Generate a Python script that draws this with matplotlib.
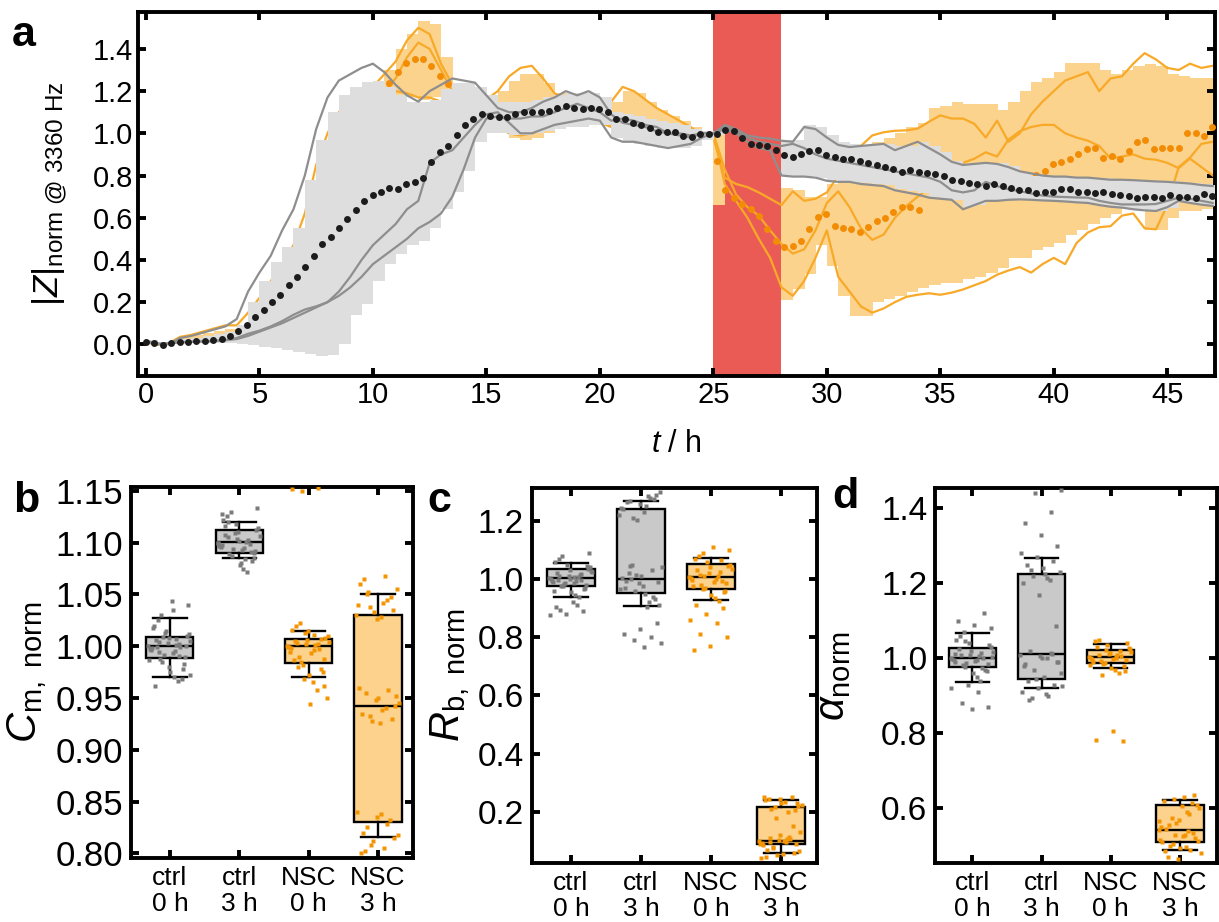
import numpy as np
import matplotlib
matplotlib.use('Agg')
import matplotlib.pyplot as plt

plt.rcParams['font.family'] = ['Liberation Sans', 'DejaVu Sans']
plt.rcParams['mathtext.fontset'] = 'custom'
plt.rcParams['mathtext.rm'] = 'Liberation Sans'
plt.rcParams['mathtext.it'] = 'Liberation Sans:italic'
plt.rcParams['mathtext.bf'] = 'Liberation Sans:bold'

# ---------------- panel a data (traces on a 0.5 h grid) ----------------
ctrl_A = [0.015, 0.005, 0.0, 0.03, 0.04, 0.055, 0.07, 0.085, 0.12, 0.25, 0.34, 0.42, 0.54, 0.64, 0.8, 1.02, 1.17, 1.25, 1.28, 1.31,
          1.33, 1.29, 1.23, 1.18, 1.15, 1.2, 1.23, 1.26, 1.25, 1.24, 1.18, 1.12, 1.1, 1.1, 1.12, 1.15, 1.17, 1.2, 1.18, 1.2,
          1.17, 1.09, 1.05, 1.04, 1.03, 1.01, 1.0, 0.99, 0.98, 1.0, 1.0,
          1.04, 1.02, 0.99, 0.98, 0.975, 0.965, 0.96, 1.03, 1.02, 0.98, 0.945, 0.935, 0.94, 0.945, 0.95, 0.92, 0.94, 0.96, 0.93, 0.9,
          0.865, 0.85, 0.855, 0.86, 0.855, 0.84, 0.82, 0.81, 0.8, 0.795, 0.795, 0.79, 0.79, 0.785, 0.78, 0.78, 0.778, 0.775, 0.772, 0.77,
          0.766, 0.762, 0.755, 0.75]
ctrl_B = [0.015, 0.0, 0.005, 0.01, 0.012, 0.014, 0.016, 0.02, 0.025, 0.04, 0.06, 0.08, 0.1, 0.125, 0.15, 0.175, 0.2, 0.25, 0.32, 0.4,
          0.47, 0.52, 0.57, 0.64, 0.68, 0.86, 0.9, 0.92, 0.98, 1.04, 1.09, 1.1, 1.05, 1.0, 1.0, 1.02, 1.04, 1.05, 1.06, 1.07,
          1.06, 0.98, 0.96, 0.96, 0.95, 0.94, 0.93, 0.94, 0.95, 0.98, 1.0,
          1.02, 1.0, 0.96, 0.93, 0.92, 0.8, 0.795, 0.795, 0.79, 0.775, 0.77, 0.77, 0.76, 0.755, 0.75, 0.73, 0.72, 0.71, 0.695, 0.69,
          0.685, 0.64, 0.66, 0.68, 0.68, 0.685, 0.687, 0.685, 0.682, 0.68, 0.677, 0.673, 0.67, 0.66, 0.652, 0.648, 0.64, 0.635, 0.632, 0.65,
          0.68, 0.67, 0.662, 0.656]
ctrl_C = [0.015, 0.0, 0.005, 0.01, 0.012, 0.014, 0.016, 0.02, 0.03, 0.05, 0.065, 0.085, 0.11, 0.14, 0.165, 0.18, 0.2, 0.23, 0.27, 0.32,
          0.38, 0.42, 0.46, 0.5, 0.55, 0.58, 0.62, 0.7, 0.83, 0.98, 1.07, 1.08, 1.07, 1.07, 1.08, 1.08, 1.1, 1.12, 1.14, 1.12,
          1.1, 1.06, 1.07, 1.06, 1.04, 1.03, 1.0, 1.0, 0.99, 1.0, 1.0,
          1.03, 1.01, 0.98, 0.96, 0.95, 0.94, 0.95, 0.93, 0.9, 0.88, 0.87, 0.86, 0.85, 0.84, 0.83, 0.82, 0.81, 0.8, 0.79, 0.77,
          0.73, 0.72, 0.73, 0.77, 0.75, 0.735, 0.726, 0.715, 0.705, 0.7, 0.698, 0.696, 0.695, 0.68, 0.67, 0.663, 0.663, 0.663, 0.665, 0.68,
          0.695, 0.69, 0.68, 0.67]
nsc_D = [0.01, 0.0, 0.005, 0.035, 0.045, 0.06, 0.075, 0.09, 0.09, 0.15, 0.22, 0.3, 0.38, 0.47, 0.62, 0.85, 1.0, 1.1, 1.15, 1.18,
         1.22, 1.28, 1.34, 1.44, 1.5, 1.47, 1.33, 1.23, 1.2, 1.18, 1.16, 1.2, 1.27, 1.31, 1.32, 1.26, 1.19, 1.16, 1.14, 1.12,
         1.1, 1.15, 1.22, 1.2, 1.16, 1.12, 1.09, 1.06, 1.03, 0.99, 0.98,
         0.79, 0.76, 0.745, 0.72, 0.69, 0.66, 0.725, 0.68, 0.69, 0.72, 0.8, 0.885, 0.94, 0.99, 1.005, 1.012, 1.014, 1.022, 1.055, 1.085,
         1.07, 1.07, 1.045, 0.98, 1.06, 0.96, 1.0, 1.09, 1.15, 1.2, 1.25, 1.27, 1.29, 1.2, 1.26, 1.27, 1.33, 1.38, 1.35, 1.31,
         1.3, 1.33, 1.31, 1.32]
nsc_E = [0.01, 0.0, 0.005, 0.01, 0.012, 0.015, 0.02, 0.03, 0.05, 0.08, 0.12, 0.17, 0.23, 0.3, 0.38, 0.47, 0.57, 0.68, 0.8, 0.95,
         1.1, 1.2, 1.26, 1.36, 1.43, 1.4, 1.3, 1.2, 1.15, 1.12, 1.1, 1.08, 1.05, 1.02, 1.02, 1.03, 1.04, 1.05, 1.05, 1.06,
         1.05, 1.03, 1.02, 1.01, 1.0, 0.99, 0.99, 0.99, 1.0, 1.0, 1.0,
         0.83, 0.71, 0.65, 0.61, 0.54, 0.476, 0.43, 0.45, 0.54, 0.67, 0.725, 0.65, 0.55, 0.495, 0.52, 0.6, 0.655, 0.7, 0.74, 0.77,
         0.82, 0.86, 0.88, 0.91, 0.89, 0.97, 1.01, 1.03, 1.04, 1.04, 1.0, 0.98, 0.965, 0.94, 0.88, 0.89, 0.9, 0.88, 0.875, 0.86,
         0.835, 0.88, 0.84, 0.8]
nsc_F = [0.01, 0.0, 0.005, 0.01, 0.012, 0.015, 0.02, 0.025, 0.04, 0.06, 0.09, 0.13, 0.18, 0.24, 0.31, 0.39, 0.48, 0.58, 0.7, 0.85,
         1.0, 1.15, 1.2, 1.19, 1.17, 1.17, 1.15, 1.12, 1.1, 1.08, 1.06, 1.03, 1.0, 0.99, 1.0, 1.02, 1.03, 1.04, 1.05, 1.06,
         1.06, 1.04, 1.02, 1.0, 0.99, 0.98, 0.97, 0.97, 0.98, 0.99, 1.0,
         0.76, 0.68, 0.6, 0.5, 0.41, 0.27, 0.23, 0.3, 0.41, 0.54, 0.32, 0.25, 0.18, 0.15, 0.17, 0.2, 0.225, 0.235, 0.242, 0.235,
         0.245, 0.26, 0.28, 0.3, 0.33, 0.35, 0.366, 0.34, 0.38, 0.41, 0.38, 0.48, 0.53, 0.555, 0.56, 0.61, 0.62, 0.55, 0.545, 0.66,
         0.84, 0.885, 0.95, 0.96]

# stepped spread bands (0.5 h bins); nan = no band
nan = np.nan
ctrl_lo = [0.0, -0.005, 0.0, 0.005, 0.005, 0.005, 0.005, 0.005, 0.0, -0.005, -0.012, -0.018, -0.025, -0.035, -0.045, -0.055, -0.05, 0.0, 0.14, 0.19,
           0.3, 0.38, 0.43, 0.47, 0.49, 0.55, 0.64, 0.72, 0.82, 0.96, 1.0, 1.0, 0.99, 0.99, 1.0, 1.01, 1.02, 1.03, 1.03, 1.04,
           1.04, 0.98, 0.96, 0.95, 0.94, 0.93, 0.93, 0.93, 0.94, 0.97, 0.99,
           nan, nan, nan, nan, nan, 0.8, 0.8, 0.8, 0.79, 0.78, 0.775, 0.77, 0.765, 0.76, 0.755, 0.735, 0.725, 0.715, 0.7, 0.69,
           0.685, 0.65, 0.66, 0.68, 0.68, 0.685, 0.685, 0.685, 0.68, 0.678, 0.675, 0.672, 0.668, 0.66, 0.652, 0.648, 0.64, 0.635, 0.632, 0.648,
           0.675, 0.668, 0.66, 0.655]
ctrl_hi = [0.02, 0.01, 0.01, 0.025, 0.03, 0.04, 0.05, 0.06, 0.09, 0.2, 0.3, 0.39, 0.46, 0.55, 0.78, 0.97, 1.1, 1.18, 1.22, 1.245,
           1.25, 1.22, 1.18, 1.15, 1.15, 1.16, 1.21, 1.24, 1.24, 1.22, 1.18, 1.15, 1.15, 1.15, 1.16, 1.17, 1.18, 1.19, 1.19, 1.19,
           1.17, 1.1, 1.09, 1.08, 1.07, 1.06, 1.05, 1.04, 1.02, 1.01, 1.01,
           nan, nan, nan, nan, nan, 0.97, 0.97, 1.04, 1.03, 0.99, 0.96, 0.95, 0.945, 0.945, 0.95, 0.94, 0.94, 0.96, 0.94, 0.91,
           0.87, 0.855, 0.855, 0.86, 0.86, 0.845, 0.81, 0.8, 0.795, 0.795, 0.795, 0.793, 0.79, 0.788, 0.785, 0.782, 0.78, 0.777, 0.774, 0.772,
           0.768, 0.764, 0.758, 0.753]
nsc_lo = [0.0, -0.005, 0.0, 0.005, 0.005, 0.005, 0.005, 0.005, 0.01, 0.02, 0.03, 0.04, 0.06, 0.08, 0.1, 0.15, 0.25, 0.35, 0.5, 0.7,
          0.9, 1.12, 1.18, 1.17, 1.16, 1.17, 1.15, 1.1, 1.05, 1.03, 1.02, 1.0, 0.98, 0.97, 0.98, 1.0, 1.02, 1.03, 1.03, 1.04,
          1.04, 1.0, 0.98, 0.97, 0.96, 0.95, 0.95, 0.96, 0.97, 0.97, 0.66,
          nan, nan, nan, nan, nan, 0.21, 0.26, 0.335, 0.47, 0.37, 0.23, 0.135, 0.135, 0.2, 0.215, 0.23, 0.25, 0.265, 0.28, 0.29,
          0.29, 0.31, 0.32, 0.34, 0.36, 0.41, 0.41, 0.445, 0.46, 0.48, 0.52, 0.54, 0.57, 0.6, 0.62, 0.645, 0.66, 0.54, 0.54, 0.6,
          0.63, 0.63, 0.64, 0.65]
nsc_hi = [0.02, 0.01, 0.015, 0.035, 0.045, 0.055, 0.065, 0.075, 0.085, 0.17, 0.26, 0.35, 0.43, 0.53, 0.76, 0.9, 1.0, 1.08, 1.12, 1.15,
          1.2, 1.3, 1.4, 1.47, 1.53, 1.52, 1.36, 1.24, 1.22, 1.2, 1.17, 1.2, 1.25, 1.28, 1.28, 1.24, 1.19, 1.17, 1.16, 1.15,
          1.14, 1.15, 1.2, 1.19, 1.15, 1.11, 1.08, 1.06, 1.03, 1.0, 1.0,
          nan, nan, nan, nan, nan, 0.74, 0.73, 0.70, 0.70, 0.76, 0.79, 0.83, 0.92, 0.96, 0.98, 1.0, 1.03, 1.05, 1.12, 1.13,
          1.15, 1.14, 1.14, 1.14, 1.11, 1.15, 1.2, 1.245, 1.26, 1.29, 1.335, 1.335, 1.335, 1.3, 1.28, 1.3, 1.32, 1.33, 1.32, 1.28,
          1.27, 1.26, 1.26, 1.26]

# mean values (one dot every 0.37 h)
ctrl_mean = [0.01, 0.005, -0.005, 0.005, 0.01, 0.012, 0.014, 0.016, 0.02, 0.025,
             0.04, 0.063, 0.094, 0.13, 0.162, 0.2, 0.233, 0.28, 0.32, 0.365,
             0.42, 0.477, 0.51, 0.55, 0.595, 0.638, 0.68, 0.71, 0.724, 0.74,
             0.737, 0.76, 0.77, 0.787, 0.863, 0.91, 0.94, 0.99, 1.04, 1.07,
             1.09, 1.08, 1.077, 1.077, 1.09, 1.1, 1.1, 1.1, 1.105, 1.12,
             1.13, 1.118, 1.115, 1.118, 1.115, 1.1, 1.068, 1.07, 1.05, 1.04,
             1.027, 1.005, 1.008, 1.005, 0.986, 0.983, 0.995, 0.995,
             0.997, 1.017, 1.013, 0.978, 0.95, 0.943, 0.939, 0.923,
             0.895, 0.89, 0.9, 0.915, 0.92, 0.896, 0.89, 0.88, 0.876, 0.868,
             0.857, 0.849, 0.841, 0.829, 0.818, 0.824, 0.818, 0.813, 0.808, 0.797,
             0.781, 0.774, 0.766, 0.758, 0.75, 0.758, 0.75, 0.739, 0.73, 0.73,
             0.719, 0.723, 0.723, 0.734, 0.734, 0.723, 0.723, 0.719, 0.723, 0.714,
             0.708, 0.703, 0.695, 0.698, 0.698, 0.692, 0.708, 0.698, 0.698, 0.692,
             0.711, 0.703]
nsc_mean = ([nan] * 29 + [1.24, 1.29, 1.335, 1.353, 1.35, 1.32, 1.27, 1.235] + [nan] * 31 + [0.87] +
            [0.73, 0.695, 0.663, 0.64, 0.61, 0.548, 0.49, 0.462, 0.467, 0.49, 0.546, 0.604,
             0.618, 0.562, 0.55, 0.548, 0.53, 0.554, 0.585, 0.6, 0.627, 0.65, 0.65, 0.635] + [nan] * 12 +
            [0.804, 0.804, 0.82, 0.854, 0.866, 0.88, 0.9, 0.925, 0.929, 0.885, 0.894, 0.879,
             0.916, 0.96, 0.968, 0.925, 0.93, 0.93, 0.93, 1.0, 1.0, 0.988, 1.03])
treat_start, treat_end = 25.0, 28.0

# ---------------- panels b-d data ----------------
categories = ['ctrl\n0 h', 'ctrl\n3 h', 'NSC\n0 h', 'NSC\n3 h']
# box statistics: (whisker low, q1, median, q3, whisker high)
cm_box = [(0.9705, 0.989, 1.0, 1.009, 1.027), (1.085, 1.090, 1.1006, 1.112, 1.120),
          (0.970, 0.984, 1.0, 1.007, 1.015), (0.8155, 0.830, 0.942, 1.030, 1.050)]
rb_box = [(0.940, 0.975, 1.003, 1.036, 1.055), (0.909, 0.954, 1.0, 1.242, 1.267),
          (0.927, 0.967, 1.007, 1.052, 1.071), (0.057, 0.088, 0.101, 0.216, 0.241)]
al_box = [(0.938, 0.976, 1.0, 1.027, 1.067), (0.922, 0.945, 1.011, 1.224, 1.267),
          (0.975, 0.988, 1.004, 1.022, 1.037), (0.489, 0.509, 0.542, 0.608, 0.622)]

cm_pts = [
    [1.000, 0.995, 1.004, 0.990, 1.008, 0.998, 1.002, 0.985, 1.012, 0.993, 1.006, 0.978, 1.015, 0.997, 1.001, 0.988, 1.010, 0.975,
     1.020, 0.999, 0.992, 1.005, 0.970, 1.025, 0.983, 1.003, 0.996, 0.966, 1.030, 1.040, 1.044, 0.962, 0.968, 1.013, 0.987, 1.007,
     0.994, 1.000, 0.980, 1.018, 0.991, 1.009, 0.972, 1.035, 0.999],
    [1.100, 1.095, 1.105, 1.090, 1.110, 1.098, 1.103, 1.087, 1.114, 1.093, 1.107, 1.082, 1.118, 1.097, 1.101, 1.089, 1.112, 1.078,
     1.122, 1.099, 1.094, 1.106, 1.075, 1.126, 1.085, 1.104, 1.096, 1.072, 1.130, 1.133, 1.080, 1.116, 1.091, 1.109, 1.100, 1.084,
     1.120, 1.092, 1.102, 1.128],
    [1.000, 0.996, 1.003, 0.988, 1.006, 0.998, 1.002, 0.985, 1.010, 0.993, 1.005, 0.978, 1.013, 0.999, 1.001, 0.990, 1.008, 0.972,
     1.016, 0.997, 0.982, 1.004, 0.965, 1.020, 0.975, 1.002, 0.994, 0.958, 1.022, 0.950, 0.944, 0.987, 1.007, 0.968, 0.999, 1.011,
     0.980, 0.962, 1.015, 1.152, 1.153, 1.150],
    [1.030, 1.042, 1.050, 1.035, 1.026, 1.060, 1.045, 1.038, 1.055, 1.028, 1.065, 1.048, 1.033, 1.040, 1.068, 1.052, 0.942, 0.950,
     0.935, 0.958, 0.928, 0.945, 0.938, 0.955, 0.930, 0.948, 0.960, 0.940, 0.933, 0.952, 0.926, 0.820, 0.832, 0.812, 0.840, 0.805,
     0.825, 0.815, 0.835, 0.800, 0.828, 0.808, 0.818, 0.838, 0.802]]
rb_pts = [
    [1.003, 0.995, 1.010, 0.980, 1.030, 0.990, 1.015, 0.975, 1.040, 0.985, 1.020, 0.965, 1.050, 1.000, 1.006, 0.978, 1.035, 0.955,
     1.060, 0.998, 0.988, 1.025, 0.945, 1.070, 0.970, 1.012, 0.993, 0.940, 1.080, 1.090, 0.920, 0.905, 0.890, 0.880, 0.875, 0.910,
     0.895, 1.045, 1.002, 0.960, 1.018, 0.984, 1.028, 1.008, 0.996],
    [1.220, 1.250, 1.270, 1.290, 1.260, 1.240, 1.280, 1.210, 1.300, 1.230, 1.265, 1.275, 1.205, 1.245, 1.285, 1.000, 0.990, 1.010,
     0.970, 1.030, 0.960, 1.040, 0.950, 1.020, 0.930, 0.985, 1.005, 0.920, 1.050, 0.910, 0.975, 0.995, 0.940, 1.015, 0.965, 0.905,
     1.045, 0.850, 0.830, 0.810, 0.800, 0.790, 0.780, 0.765],
    [1.007, 1.000, 1.015, 0.985, 1.040, 0.975, 1.025, 0.965, 1.050, 0.990, 1.030, 0.955, 1.060, 1.005, 1.012, 0.980, 1.045, 0.945,
     1.070, 0.995, 0.970, 1.035, 0.935, 1.080, 0.960, 1.020, 0.998, 0.925, 1.090, 1.100, 1.110, 0.910, 0.900, 0.880, 0.860, 0.850,
     0.810, 0.800, 0.770, 0.755, 1.065, 1.010],
    [0.100, 0.095, 0.110, 0.090, 0.120, 0.085, 0.105, 0.080, 0.130, 0.098, 0.070, 0.060, 0.050, 0.040, 0.200, 0.210, 0.220, 0.230,
     0.240, 0.250, 0.215, 0.225, 0.235, 0.245, 0.205, 0.102, 0.093, 0.115, 0.075, 0.065, 0.055, 0.045, 0.150, 0.180, 0.088, 0.108,
     0.097, 0.230, 0.245, 0.250]]
al_pts = [
    [1.000, 0.995, 1.010, 0.985, 1.020, 0.990, 1.015, 0.978, 1.030, 0.993, 1.025, 0.970, 1.040, 0.998, 1.005, 0.982, 1.035, 0.960,
     1.050, 1.002, 0.988, 1.018, 0.950, 1.060, 0.965, 1.008, 0.996, 0.940, 1.070, 1.080, 1.090, 1.100, 1.120, 0.930, 0.920, 0.910,
     0.880, 0.870, 0.865, 1.012, 0.975, 1.045, 1.003],
    [1.010, 1.000, 1.020, 0.990, 1.005, 0.980, 1.015, 0.970, 0.960, 0.950, 0.940, 0.930, 0.920, 0.910, 0.900, 0.895, 0.990, 1.002,
     0.985, 1.012, 0.945, 0.925, 0.905, 0.890, 1.085, 1.170, 1.200, 1.210, 1.220, 1.230, 1.240, 1.250, 1.260, 1.270, 1.280, 1.215,
     1.235, 1.300, 1.330, 1.360, 1.390, 1.440, 1.450, 1.225],
    [1.004, 1.000, 1.010, 0.995, 1.015, 0.990, 1.020, 0.985, 1.025, 0.998, 1.030, 0.980, 1.035, 1.002, 1.008, 0.992, 1.040, 0.975,
     1.045, 1.006, 0.988, 1.018, 0.970, 1.050, 0.965, 1.012, 0.996, 0.960, 0.955, 1.028, 0.805, 0.782, 0.780, 1.022, 0.983, 1.003],
    [0.542, 0.530, 0.555, 0.520, 0.570, 0.510, 0.585, 0.505, 0.600, 0.525, 0.545, 0.535, 0.560, 0.515, 0.590, 0.500, 0.610, 0.495,
     0.620, 0.490, 0.625, 0.480, 0.630, 0.470, 0.635, 0.465, 0.550, 0.540, 0.575, 0.512, 0.605, 0.485, 0.615, 0.528, 0.565, 0.498]]

# ---------------- styling ----------------
RED = '#eb5b55'
O_FILL = '#fbd38d'
O_LINE = '#f8a928'
O_DOT = '#f28c05'
G_FILL = '#dedede'
G_LINE = '#8e8e8e'
K_DOT = '#1c1c1c'
BOX_G = '#c9c9c9'
BOX_O = '#fcd28c'
PT_G = '#7b7b7b'
PT_O = '#f39400'
SPW = 2.8


def style_axes(ax, labelsize, pad):
    for s in ax.spines.values():
        s.set_linewidth(SPW)
    ax.tick_params(direction='in', top=True, right=True, length=6, width=SPW,
                   labelsize=labelsize, pad=pad)


fig = plt.figure(figsize=(12.19, 9.22), dpi=100)

# ---------------- panel a ----------------
axA = fig.add_axes([0.1132, 0.5922, 0.8835, 0.3948])
axA.axvspan(treat_start, treat_end, color=RED, lw=0, zorder=0.5)


def band(ax, lo, hi, color, z):
    lo = np.asarray(lo, float)
    hi = np.asarray(hi, float)
    tt = np.arange(len(lo)) * 0.5
    m = ~np.isnan(lo)
    ax.bar(tt[m], (hi - lo)[m], bottom=lo[m], width=0.52, align='edge', color=color, lw=0, zorder=z)


band(axA, nsc_lo, nsc_hi, O_FILL, 1)
for tr in (nsc_D, nsc_E, nsc_F):
    axA.plot(np.arange(len(tr)) * 0.5, tr, color=O_LINE, lw=1.6, zorder=2)
axA.plot(np.arange(len(nsc_mean)) * 0.37, nsc_mean, 'o', color=O_DOT, ms=5, mec='none', zorder=3)
band(axA, ctrl_lo, ctrl_hi, G_FILL, 4)
for tr in (ctrl_A, ctrl_B, ctrl_C):
    axA.plot(np.arange(len(tr)) * 0.5, tr, color=G_LINE, lw=1.6, zorder=5)
axA.plot(np.arange(len(ctrl_mean)) * 0.37, ctrl_mean, 'o', color=K_DOT, ms=5, mec='none', zorder=6)

axA.set_xlim(-0.35, 47.1)
axA.set_ylim(-0.15, 1.575)
axA.set_xticks(np.arange(0, 46, 5))
axA.set_yticks(np.arange(0, 1.41, 0.2))
axA.set_yticklabels(['%.1f' % v for v in np.arange(0, 1.41, 0.2)])
style_axes(axA, 21, 3.5)
axA.set_ylabel(r'$|Z|_{\mathrm{norm\ @\ 3360\ Hz}}$', fontsize=25)
axA.yaxis.set_label_coords(-0.063, 0.5)
fig.text(676 / 1219, 1 - 452 / 922, r'$t$ / h', ha='center', va='baseline', fontsize=22)


# ---------------- panels b-d ----------------
def box_panel(rect, boxes, pts, ylim, yticks, yfmt, ylabel, lab_x, labelsize):
    ax = fig.add_axes(rect)
    stats = [dict(whislo=b[0], q1=b[1], med=b[2], q3=b[3], whishi=b[4], fliers=[]) for b in boxes]
    lw = 1.7
    res = ax.bxp(stats, positions=range(4), widths=0.68, capwidths=0.48, patch_artist=True, showfliers=False,
                 boxprops=dict(edgecolor='black', linewidth=lw),
                 medianprops=dict(color='black', linewidth=lw),
                 whiskerprops=dict(color='black', linewidth=lw),
                 capprops=dict(color='black', linewidth=lw), zorder=2)
    for i, p in enumerate(res['boxes']):
        p.set_facecolor(BOX_G if i < 2 else BOX_O)
    for i, vals in enumerate(pts):
        n = len(vals)
        jit = ((np.arange(n) * 0.6180339887) % 1.0 - 0.5) * 0.62
        ax.plot(i + jit, vals, 's', ms=2.9, mec='none', color=PT_G if i < 2 else PT_O, zorder=3)
    ax.set_ylim(*ylim)
    ax.set_yticks(yticks)
    ax.set_yticklabels([yfmt % v for v in yticks])
    ax.set_xticks(range(4))
    ax.set_xticklabels(categories, linespacing=1.1)
    style_axes(ax, labelsize, 5.5)
    ax.tick_params(axis='x', labelsize=19, pad=6)
    ax.set_ylabel(ylabel, fontsize=30)
    ax.yaxis.set_label_coords(lab_x, 0.5)
    return ax


axB = box_panel([0.1075, 0.0694, 0.231, 0.4027], cm_box, cm_pts, (0.7955, 1.154),
                np.arange(0.80, 1.151, 0.05), '%.2f', r'$C_{\mathrm{m,\ norm}}$', -0.29, 25)
axB.set_xlim(-0.56, 3.5)
axC = box_panel([0.4362, 0.0643, 0.2338, 0.406], rb_box, rb_pts, (0.025, 1.312),
                np.arange(0.2, 1.21, 0.2), '%.1f', r'$R_{\mathrm{b,\ norm}}$', -0.21, 24)
axC.set_xlim(-0.56, 3.51)
axD = box_panel([0.767, 0.0643, 0.2311, 0.406], al_box, al_pts, (0.455, 1.453),
                np.arange(0.6, 1.41, 0.2), '%.1f', r'$\alpha_{\mathrm{norm}}$', -0.29, 24)
axD.set_xlim(-0.54, 3.53)

# panel letters
for x, y, s in [(12, 46, 'a'), (13, 512, 'b'), (427, 512, 'c'), (832, 508, 'd')]:
    fig.text(x / 1219, 1 - y / 922, s, fontsize=31, fontweight='bold', ha='left', va='baseline')

fig.savefig('out.png', dpi=100)
